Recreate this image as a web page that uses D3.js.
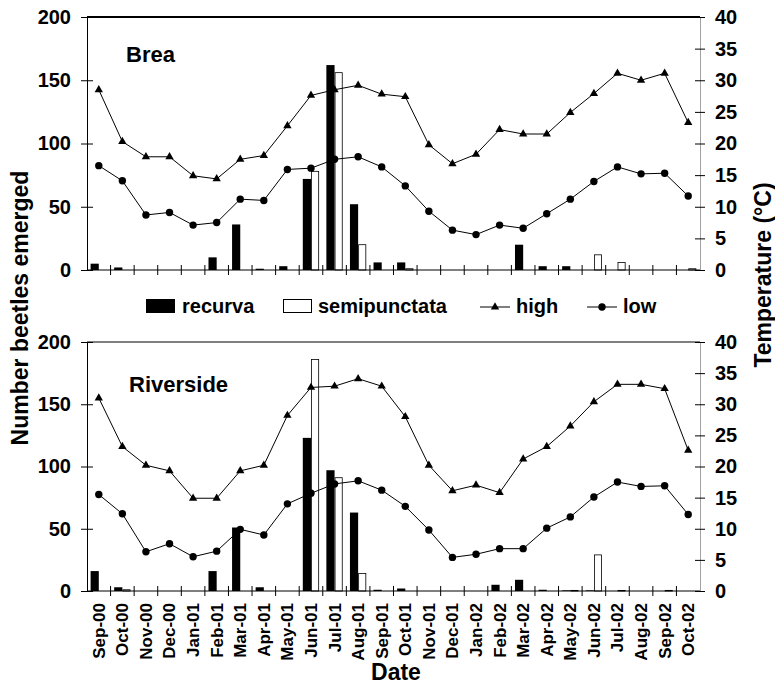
<!DOCTYPE html>
<html>
<head>
<meta charset="utf-8">
<script src="https://cdn.jsdelivr.net/npm/d3@7"></script>
<style>
  body { margin: 0; background: #fff; }
  svg text { font-family: Arial, "Liberation Sans", sans-serif; font-weight: bold; fill: #000; }
</style>
</head>
<body>
<div id="chart"></div>
<script>
const months = ['Sep-00','Oct-00','Nov-00','Dec-00','Jan-01','Feb-01','Mar-01','Apr-01','May-01','Jun-01','Jul-01','Aug-01',
  'Sep-01','Oct-01','Nov-01','Dec-01','Jan-02','Feb-02','Mar-02','Apr-02','May-02','Jun-02','Jul-02','Aug-02','Sep-02','Oct-02']

const breaRecurva = [5,2,0,0,0,10,36,1,3,72,162,52,6,6,0,0,0,0,20,3,3,0,0,0,0,0]
const breaSemi = [0,0,0,0,0,0,0,0,0,78,156,20,0,1,0,0,0,0,0,0,0,12,6,0,0,1]
const breaHigh = [28.5,20.3,17.9,17.9,14.9,14.4,17.5,18.1,22.8,27.6,28.5,29.2,27.8,27.4,19.8,16.8,18.3,22.2,21.5,21.5,24.9,27.9,31.1,30.0,31.1,23.3]
const breaLow = [16.5,14.1,8.7,9.1,7.1,7.5,11.2,11.0,15.9,16.1,17.5,17.9,16.3,13.3,9.3,6.3,5.6,7.1,6.6,8.9,11.2,14.0,16.3,15.2,15.3,11.7]

const riverRecurva = [16,3,0,0,0,16,51,3,0,123,97,63,1,2,0,0,0,5,9,1,0.5,0.5,0,0,0,0]
const riverSemi = [0,1,0,0,0,0,0,0,0,186,91,14,0,0,0,0,0,0,0,0,0.5,29,0.5,0,0.5,0]
const riverHigh = [31.0,23.2,20.2,19.3,14.9,14.9,19.3,20.2,28.2,32.7,32.9,34.1,32.9,28.0,20.2,16.1,17.0,15.8,21.2,23.2,26.5,30.4,33.2,33.2,32.5,22.6]
const riverLow = [15.5,12.4,6.3,7.6,5.5,6.4,9.9,9.0,14.0,15.7,17.2,17.7,16.2,13.6,9.8,5.4,5.9,6.8,6.8,10.1,11.9,15.1,17.5,16.8,16.9,12.3]

const countTicks = [0,50,100,150,200]
const tempTicks = [0,5,10,15,20,25,30,35,40]

let width = 775, height = 686
let left = 87, right = 700

let svg = d3.select('#chart').append('svg')
  .attr('width', width)
  .attr('height', height)

let x = d3.scaleBand().domain(months).range([left, right]).padding(0)
let xSeries = d3.scaleBand().domain(['recurva', 'semipunctata'])
  .range([0, x.bandwidth()]).paddingInner(0).paddingOuter(0.44)

function drawPanel(cfg) {
  let yCount = d3.scaleLinear().domain([0, 200]).range([cfg.bottom, cfg.top])
  let yTemp = d3.scaleLinear().domain([0, 40]).range([cfg.bottom, cfg.top])
  let g = svg.append('g')

  // top border
  g.append('line')
    .attr('x1', left).attr('x2', right)
    .attr('y1', cfg.top).attr('y2', cfg.top)
    .attr('stroke', '#000').attr('stroke-width', cfg.topWidth)

  // bars
  let rows = months.map((m, i) => ({month: m, recurva: cfg.recurva[i], semipunctata: cfg.semi[i]}))
  let groups = g.selectAll('.month').data(rows).enter().append('g')
    .attr('transform', d => `translate(${x(d.month)},0)`)
  groups.append('rect')
    .attr('x', xSeries('recurva'))
    .attr('width', xSeries.bandwidth())
    .attr('y', d => yCount(d.recurva))
    .attr('height', d => cfg.bottom - yCount(d.recurva))
    .attr('fill', '#000')
  groups.filter(d => d.semipunctata > 0).append('rect')
    .attr('x', xSeries('semipunctata') + 0.5)
    .attr('width', xSeries.bandwidth() - 1)
    .attr('y', d => yCount(d.semipunctata))
    .attr('height', d => cfg.bottom - yCount(d.semipunctata))
    .attr('fill', '#fff')
    .attr('stroke', '#000')
    .attr('stroke-width', 0.8)

  // temperature lines
  let line = d3.line()
    .x((d, i) => x(months[i]) + x.bandwidth() / 2)
    .y(d => yTemp(d))
  g.append('path').datum(cfg.high).attr('d', line)
    .attr('fill', 'none').attr('stroke', '#000').attr('stroke-width', 1)
  g.append('path').datum(cfg.low).attr('d', line)
    .attr('fill', 'none').attr('stroke', '#000').attr('stroke-width', 1)

  g.selectAll('.tri').data(cfg.high).enter().append('path')
    .attr('d', d3.symbol(d3.symbolTriangle, 30))
    .attr('transform', (d, i) => `translate(${x(months[i]) + x.bandwidth() / 2},${yTemp(d)})`)
    .attr('fill', '#000')
  g.selectAll('.dot').data(cfg.low).enter().append('circle')
    .attr('cx', (d, i) => x(months[i]) + x.bandwidth() / 2)
    .attr('cy', d => yTemp(d))
    .attr('r', 3.7)
    .attr('fill', '#000')

  // left axis
  let yAxisL = d3.axisLeft(yCount).tickValues(countTicks).tickSizeInner(6).tickSizeOuter(0).tickPadding(10)
  let ax = g.append('g').attr('transform', `translate(${left},0)`).call(yAxisL)
  ax.select('.domain').attr('stroke', '#000')
  ax.selectAll('.tick line').attr('x2', -6).attr('x1', 6)
  ax.selectAll('.tick text').attr('font-size', 20).attr('x', -16)

  // right axis
  let yAxisR = d3.axisRight(yTemp).tickValues(tempTicks).tickSizeInner(5).tickSizeOuter(0).tickPadding(10)
  let axR = g.append('g').attr('transform', `translate(${right},0)`).call(yAxisR)
  axR.select('.domain').attr('stroke', '#444').attr('stroke-dasharray', '1,1')
  axR.selectAll('.tick line').attr('x1', -5).attr('x2', 5)
  axR.selectAll('.tick text').attr('font-size', 20).attr('x', 15)

  // bottom axis with ticks at band edges
  g.append('line')
    .attr('x1', left).attr('x2', right)
    .attr('y1', cfg.bottom).attr('y2', cfg.bottom)
    .attr('stroke', '#000')
  g.selectAll('.xtick').data(months.slice(1)).enter().append('line')
    .attr('x1', d => x(d)).attr('x2', d => x(d))
    .attr('y1', cfg.bottom - 5).attr('y2', cfg.bottom + 5)
    .attr('stroke', '#000')

  g.append('text')
    .attr('x', cfg.labelX).attr('y', cfg.labelY)
    .attr('font-size', 22)
    .text(cfg.name)

  return g
}

drawPanel({name: 'Brea', top: 17, bottom: 270, topWidth: 2, labelX: 126, labelY: 62,
  recurva: breaRecurva, semi: breaSemi, high: breaHigh, low: breaLow})
drawPanel({name: 'Riverside', top: 342, bottom: 591, topWidth: 1, labelX: 129, labelY: 392,
  recurva: riverRecurva, semi: riverSemi, high: riverHigh, low: riverLow})

// month labels under bottom panel
svg.append('g').selectAll('text').data(months).enter().append('text')
  .attr('transform', d => `translate(${x(d) + x.bandwidth() / 2},603) rotate(-90)`)
  .attr('text-anchor', 'end')
  .attr('dy', '0.35em')
  .attr('font-size', 17)
  .text(d => d)

// axis titles
svg.append('text')
  .attr('transform', 'translate(28,308) rotate(-90)')
  .attr('text-anchor', 'middle')
  .attr('font-size', 23)
  .text('Number beetles emerged')
svg.append('text')
  .attr('transform', 'translate(771,275) rotate(-90)')
  .attr('text-anchor', 'middle')
  .attr('font-size', 23)
  .text('Temperature (\u00B0C)')
svg.append('text')
  .attr('x', 396).attr('y', 680)
  .attr('text-anchor', 'middle')
  .attr('font-size', 23)
  .text('Date')

// legend
let legend = svg.append('g')
legend.append('rect').attr('x', 146).attr('y', 299).attr('width', 29).attr('height', 14).attr('fill', '#000')
legend.append('text').attr('x', 182).attr('y', 313).attr('font-size', 20).text('recurva')
legend.append('rect').attr('x', 283.5).attr('y', 299.5).attr('width', 28).attr('height', 13)
  .attr('fill', '#fff').attr('stroke', '#000').attr('stroke-width', 1)
legend.append('text').attr('x', 318).attr('y', 313).attr('font-size', 20).text('semipunctata')
legend.append('line').attr('x1', 480).attr('x2', 510).attr('y1', 307).attr('y2', 307).attr('stroke', '#000')
legend.append('path').attr('d', d3.symbol(d3.symbolTriangle, 30)).attr('transform', 'translate(495,307)')
legend.append('text').attr('x', 516).attr('y', 313).attr('font-size', 20).text('high')
legend.append('line').attr('x1', 587).attr('x2', 617).attr('y1', 307).attr('y2', 307).attr('stroke', '#000')
legend.append('circle').attr('cx', 602).attr('cy', 307).attr('r', 3.7)
legend.append('text').attr('x', 623).attr('y', 313).attr('font-size', 20).text('low')
</script>
</body>
</html>
